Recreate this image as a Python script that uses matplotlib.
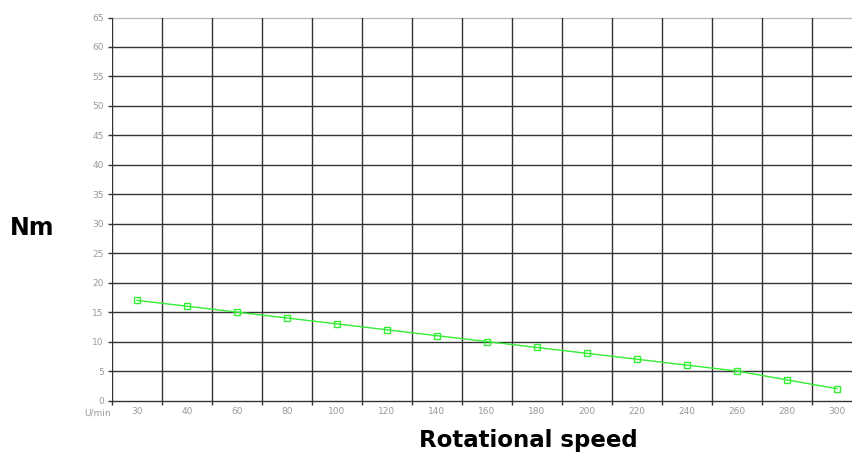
import matplotlib
matplotlib.use("Agg")
import matplotlib.pyplot as plt
import numpy as np

speeds = ["30", "40", "60", "80", "100", "120", "140", "160", "180", "200",
          "220", "240", "260", "280", "300"]
torque = [17, 16, 15, 14, 13, 12, 11, 10, 9, 8, 7, 6, 5, 3.5, 2]
y_ticks = list(range(0, 70, 5))
unit_label = "U/min"

W, H = 853, 458
fig = plt.figure(figsize=(W / 100, H / 100), dpi=100)
ax = fig.add_axes([112 / W, (H - 400.5) / H, 1 - 112 / W, (400.5 - 17.5) / H])

pos = np.arange(len(speeds)) + 0.5
ax.set_xlim(0, (W - 112) / 50)
ax.set_ylim(0, 65)

for s in ax.spines.values():
    s.set_visible(False)

# horizontal grid
for v in y_ticks:
    col = "#bbbbbb" if v == 65 else "#333333"
    ax.axhline(v, color=col, lw=1.0, zorder=1, clip_on=False)
# vertical grid
for i in range(len(speeds)):
    ax.axvline(i, color="#333333", lw=1.0, zorder=1)

ax.set_yticks(y_ticks)
ax.set_yticklabels([str(v) for v in y_ticks])
ax.tick_params(axis="y", length=3, width=1.0, color="#333333", pad=3,
               labelsize=6.5, labelcolor="#999999")

ax.set_xticks(np.arange(len(speeds)))
ax.set_xticklabels([""] * len(speeds))
ax.tick_params(axis="x", which="major", length=3, width=1.0, color="#333333")
ax.set_xticks(pos, minor=True)
ax.set_xticklabels(speeds, minor=True)
ax.tick_params(axis="x", which="minor", length=0, pad=5, labelsize=6.5,
               labelcolor="#999999")

ax.text(-0.28, -12.5 / 5.89, unit_label, ha="center", va="center", fontsize=6.5,
        color="#999999", clip_on=False)

ax.plot(pos, torque, color="#33ee33", lw=1.0, marker="s", markersize=4.8,
        markerfacecolor="none", markeredgecolor="#33ee33", markeredgewidth=1.0,
        zorder=3)

fig.text(32 / W, 1 - 228 / H, "Nm", ha="center", va="center", fontsize=17,
         fontweight="bold", family="DejaVu Sans")
fig.text(528 / W, 1 - 440 / H, "Rotational speed", ha="center", va="center",
         fontsize=16.5, fontweight="bold", family="DejaVu Sans")

fig.savefig("out.png", dpi=100)
